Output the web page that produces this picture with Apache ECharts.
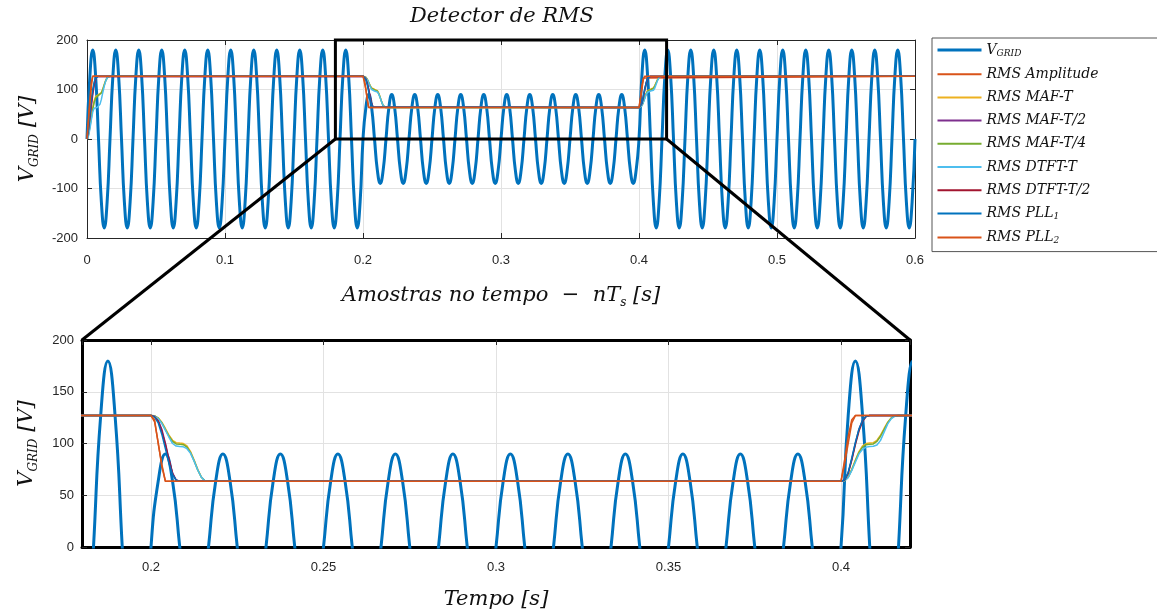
<!DOCTYPE html>
<html><head><meta charset="utf-8">
<script src="https://cdn.jsdelivr.net/npm/echarts@6/dist/echarts.min.js"></script>
<style>html,body{margin:0;padding:0;background:#fff}#c{width:1157px;height:616px}</style>
</head><body><div id="c"></div><script>
// ---------------- DATA ----------------
// grid voltage samples, taken every Ts seconds (8 samples per 60 Hz cycle)
const Ts = 1 / 480;
const vGrid = [
  0, 127, 179.6, 127, 0, -127, -179.6, -127, 0, 127, 179.6, 127, 0, -127, -179.6, -127,
  0, 127, 179.6, 127, 0, -127, -179.6, -127, 0, 127, 179.6, 127, 0, -127, -179.6, -127,
  0, 127, 179.6, 127, 0, -127, -179.6, -127, 0, 127, 179.6, 127, 0, -127, -179.6, -127,
  0, 127, 179.6, 127, 0, -127, -179.6, -127, 0, 127, 179.6, 127, 0, -127, -179.6, -127,
  0, 127, 179.6, 127, 0, -127, -179.6, -127, 0, 127, 179.6, 127, 0, -127, -179.6, -127,
  0, 127, 179.6, 127, 0, -127, -179.6, -127, 0, 127, 179.6, 127, 0, -127, -179.6, -127,
  0, 63.5, 89.8, 63.5, 0, -63.5, -89.8, -63.5, 0, 63.5, 89.8, 63.5, 0, -63.5, -89.8, -63.5,
  0, 63.5, 89.8, 63.5, 0, -63.5, -89.8, -63.5, 0, 63.5, 89.8, 63.5, 0, -63.5, -89.8, -63.5,
  0, 63.5, 89.8, 63.5, 0, -63.5, -89.8, -63.5, 0, 63.5, 89.8, 63.5, 0, -63.5, -89.8, -63.5,
  0, 63.5, 89.8, 63.5, 0, -63.5, -89.8, -63.5, 0, 63.5, 89.8, 63.5, 0, -63.5, -89.8, -63.5,
  0, 63.5, 89.8, 63.5, 0, -63.5, -89.8, -63.5, 0, 63.5, 89.8, 63.5, 0, -63.5, -89.8, -63.5,
  0, 63.5, 89.8, 63.5, 0, -63.5, -89.8, -63.5, 0, 63.5, 89.8, 63.5, 0, -63.5, -89.8, -63.5,
  0, 127, 179.6, 127, 0, -127, -179.6, -127, 0, 127, 179.6, 127, 0, -127, -179.6, -127,
  0, 127, 179.6, 127, 0, -127, -179.6, -127, 0, 127, 179.6, 127, 0, -127, -179.6, -127,
  0, 127, 179.6, 127, 0, -127, -179.6, -127, 0, 127, 179.6, 127, 0, -127, -179.6, -127,
  0, 127, 179.6, 127, 0, -127, -179.6, -127, 0, 127, 179.6, 127, 0, -127, -179.6, -127,
  0, 127, 179.6, 127, 0, -127, -179.6, -127, 0, 127, 179.6, 127, 0, -127, -179.6, -127,
  0, 127, 179.6, 127, 0, -127, -179.6, -127, 0, 127, 179.6, 127, 0, -127, -179.6, -127,
  0
];

// RMS estimates: events (start, sag, recovery) and sample offsets after each event (s)
const eventTimes = [0, 0.2, 0.4];
const tEnd = 0.6;
const stepOffsets = [0, 0.00104, 0.00208, 0.00313, 0.00417, 0.00521, 0.00625, 0.00729, 0.00833,
                     0.00938, 0.01042, 0.01146, 0.0125, 0.01354, 0.01458, 0.01563, 0.01667];

// each: [values after t=0, values after sag, values after recovery]
const rmsAmplitude = [
  [0, 40, 80, 115, 127],
  [127, 121, 101, 78, 63.5],
  [63.5, 84, 107, 123, 127]
];
const rmsMafT = [
  [0, 10.0, 27.1, 46.0, 63.5, 77.1, 85.6, 89.2, 89.8, 90.4, 93.8, 100.9, 110.0, 118.4, 124.1, 126.6, 127],
  [127, 126.7, 124.8, 120.6, 114.5, 108.0, 103.1, 100.8, 100.4, 100.0, 97.6, 92.2, 84.0, 75.0, 67.7, 64.1, 63.5],
  [63.5, 64.1, 67.7, 75.0, 84.0, 92.2, 97.6, 100.0, 100.4, 100.8, 103.1, 108.0, 114.5, 120.6, 124.8, 126.7, 127]
];
const rmsMafT2 = [
  [0, 14.2, 38.3, 65.1, 89.8, 109.1, 121.1, 126.2, 127],
  [127, 126.4, 122.6, 113.8, 100.4, 84.9, 71.6, 64.7, 63.5],
  [63.5, 64.7, 71.6, 84.9, 100.4, 113.8, 122.6, 126.4, 127]
];
const rmsMafT4 = [
  [0, 8, 24, 42, 60, 74, 83, 87, 88, 89, 93, 100, 109, 117.5, 123.5, 126.3, 127],
  [127, 126.6, 124.5, 120, 113.5, 107, 102, 99.6, 99.2, 98.9, 96.5, 91.2, 83.2, 74.5, 67.4, 64, 63.5],
  [63.5, 64, 67.4, 74.5, 83.2, 91.2, 96.5, 98.9, 99.2, 99.6, 102, 107, 113.5, 120, 124.5, 126.6, 127]
];
const rmsDtftT = [
  [0, 6, 20, 38, 55, 62, 63, 63.5, 65, 70, 80, 94, 107, 117, 123.5, 126.3, 127],
  [127, 126.5, 124, 119.5, 113, 106, 100, 97.5, 97, 96.8, 95, 90.5, 83, 74.5, 67.5, 64, 63.5],
  [63.5, 64, 67, 74, 82, 90, 94.5, 96.5, 97, 97.3, 98.5, 103, 111, 119, 124, 126.5, 127]
];
const rmsDtftT2 = [
  [0, 18, 45, 72, 95, 112, 122, 126.4, 127],
  [127, 126, 121.5, 112, 99, 84, 71, 64.5, 63.5],
  [63.5, 64.5, 71, 84, 99, 112, 121.5, 126, 127]
];
const rmsPll1 = [
  [0, 20, 50, 80, 100, 115, 123, 126.5, 127],
  [127, 125.5, 120, 109, 95, 81, 70, 64.5, 63.5],
  [63.5, 65, 72, 86, 101, 114, 122.5, 126.3, 127]
];
const rmsPll2 = [
  [0, 35, 70, 105, 127],
  [127, 123, 100, 80, 63.5],
  [63.5, 80, 100, 120, 127]
];

// zoomed window
const zoomX = [0.18, 0.42];
const zoomY = [0, 200];

// ---------------- BUILD ----------------
const serif = '"DejaVu Serif", serif';
const sans = '"Liberation Sans", Arial, sans-serif';
const dark = '#262626';

function rmsData(segs, offsets) {
  const pts = [];
  segs.forEach((vals, e) => vals.forEach((v, i) => pts.push([eventTimes[e] + offsets[i], v])));
  const last = segs[segs.length - 1];
  pts.push([tEnd, last[last.length - 1]]);
  return pts;
}
const vGridData = vGrid.map((v, i) => [i * Ts, v]);

const rmsDefs = [
  { name: 'RMS Amplitude', color: '#D95319', data: rmsData(rmsAmplitude, stepOffsets) },
  { name: 'RMS MAF-T', color: '#EDB120', data: rmsData(rmsMafT, stepOffsets) },
  { name: 'RMS MAF-T/2', color: '#7E2F8E', data: rmsData(rmsMafT2, stepOffsets) },
  { name: 'RMS MAF-T/4', color: '#77AC30', data: rmsData(rmsMafT4, stepOffsets) },
  { name: 'RMS DTFT-T', color: '#4DBEEE', data: rmsData(rmsDtftT, stepOffsets) },
  { name: 'RMS DTFT-T/2', color: '#A2142F', data: rmsData(rmsDtftT2, stepOffsets) },
  { name: 'RMS PLL1', color: '#0072BD', data: rmsData(rmsPll1, stepOffsets) },
  { name: 'RMS PLL2', color: '#D95319', data: rmsData(rmsPll2, stepOffsets) }
];

const nameRich = {
  i: { fontFamily: serif, fontStyle: 'italic', fontSize: 21, lineHeight: 26, color: '#111', verticalAlign: 'middle' },
  s: { fontFamily: serif, fontStyle: 'italic', fontSize: 12, lineHeight: 13, color: '#111', verticalAlign: 'bottom' }
};

function tickAxisCommon(bold) {
  return {
    axisLine: { show: true, onZero: false, lineStyle: { color: bold ? '#000' : dark, width: bold ? 3 : 1 } },
    axisTick: { show: true, inside: true, length: 5, lineStyle: { color: dark, width: 1 } }
  };
}
const gridLine = { show: true, lineStyle: { color: '#e2e2e2', width: 1 } };
const labelStyle = { color: dark, fontFamily: sans, fontSize: 13 };

const xAxes = [
  Object.assign({ gridIndex: 0, type: 'value', min: 0, max: 0.6, interval: 0.1, position: 'bottom',
    axisLabel: Object.assign({ margin: 16 }, labelStyle), splitLine: gridLine,
    name: '{i|Amostras no tempo  −  nT}{s|s}{i| [s]}', nameLocation: 'middle', nameGap: 45,
    nameTextStyle: { rich: nameRich } }, tickAxisCommon(false)),
  Object.assign({ gridIndex: 0, type: 'value', min: 0, max: 0.6, interval: 0.1, position: 'top',
    axisLabel: { show: false }, splitLine: { show: false } }, tickAxisCommon(false)),
  Object.assign({ gridIndex: 1, type: 'value', min: zoomX[0], max: zoomX[1], splitNumber: 5, position: 'bottom',
    axisLabel: Object.assign({ margin: 14, showMinLabel: false, showMaxLabel: false }, labelStyle), splitLine: gridLine,
    name: '{i|Tempo [s]}', nameLocation: 'middle', nameGap: 40,
    nameTextStyle: { rich: nameRich } }, tickAxisCommon(true)),
  Object.assign({ gridIndex: 1, type: 'value', min: zoomX[0], max: zoomX[1], splitNumber: 5, position: 'top',
    axisLabel: { show: false }, splitLine: { show: false } }, tickAxisCommon(true))
];
const yAxes = [
  Object.assign({ gridIndex: 0, type: 'value', min: -200, max: 200, interval: 100, position: 'left',
    axisLabel: Object.assign({ margin: 9 }, labelStyle), splitLine: gridLine,
    name: '{i|V}{s|GRID}{i| [V]}', nameLocation: 'middle', nameGap: 46,
    nameTextStyle: { rich: nameRich } }, tickAxisCommon(false)),
  Object.assign({ gridIndex: 0, type: 'value', min: -200, max: 200, interval: 100, position: 'right',
    axisLabel: { show: false }, splitLine: { show: false } }, tickAxisCommon(false)),
  Object.assign({ gridIndex: 1, type: 'value', min: zoomY[0], max: zoomY[1], interval: 50, position: 'left',
    axisLabel: Object.assign({ margin: 8 }, labelStyle), splitLine: gridLine,
    name: '{i|V}{s|GRID}{i| [V]}', nameLocation: 'middle', nameGap: 42,
    nameTextStyle: { rich: nameRich } }, tickAxisCommon(true)),
  Object.assign({ gridIndex: 1, type: 'value', min: zoomY[0], max: zoomY[1], interval: 50, position: 'right',
    axisLabel: { show: false }, splitLine: { show: false } }, tickAxisCommon(true))
];

const series = [];
[[0, 0], [2, 2]].forEach(([xi, yi], g) => {
  const s = {
    name: 'V_GRID', type: 'line', xAxisIndex: xi, yAxisIndex: yi, data: vGridData,
    smooth: true, symbol: 'none', color: '#0072BD', lineStyle: { color: '#0072BD', width: 3 }, z: 2
  };
  if (g === 0) {
    s.markArea = {
      silent: true, z: 10,
      itemStyle: { color: 'rgba(0,0,0,0)', borderColor: '#000', borderWidth: 3 },
      data: [[{ coord: [zoomX[0], zoomY[0]] }, { coord: [zoomX[1], zoomY[1]] }]]
    };
  }
  series.push(s);
  rmsDefs.forEach(d => series.push({
    name: d.name, type: 'line', xAxisIndex: xi, yAxisIndex: yi, data: d.data,
    symbol: 'none', color: d.color, lineStyle: { color: d.color, width: 1.5 }, z: 3
  }));
});

const legendRich = {
  i: { fontFamily: serif, fontStyle: 'italic', fontSize: 14, lineHeight: 16, color: '#111', verticalAlign: 'middle' },
  s: { fontFamily: serif, fontStyle: 'italic', fontSize: 9, lineHeight: 9, color: '#111', verticalAlign: 'bottom' }
};
const legendText = {
  'V_GRID': '{i|V}{s|GRID}',
  'RMS PLL1': '{i|RMS PLL}{s|1}',
  'RMS PLL2': '{i|RMS PLL}{s|2}'
};

const option = {
  animation: false,
  backgroundColor: '#fff',
  title: {
    text: 'Detector de RMS', left: 497, top: 1, textAlign: 'center',
    textStyle: { fontFamily: serif, fontStyle: 'italic', fontWeight: 'normal', fontSize: 21, color: '#111' }
  },
  legend: {
    orient: 'vertical', left: 932, top: 38, padding: [5, 60, 6, 4],
    borderColor: '#555', borderWidth: 1, backgroundColor: '#fff',
    itemWidth: 44, itemHeight: 14, itemGap: 9.2,
    itemStyle: { opacity: 0 },
    data: [{ name: 'V_GRID', lineStyle: { width: 3 } }].concat(rmsDefs.map(d => d.name)),
    formatter: n => legendText[n] || ('{i|' + n + '}'),
    textStyle: { rich: legendRich }
  },
  grid: [
    { left: 87, top: 40, width: 828, height: 198 },
    { left: 82, top: 340, width: 828, height: 207 }
  ],
  xAxis: xAxes,
  yAxis: yAxes,
  series: series
};

const chart = echarts.init(document.getElementById('c'), null, { renderer: 'canvas' });
chart.setOption(option);

// connector lines from the zoom rectangle to the detail plot
const a1 = chart.convertToPixel({ xAxisIndex: 0, yAxisIndex: 0 }, [zoomX[0], zoomY[0]]);
const a2 = chart.convertToPixel({ xAxisIndex: 0, yAxisIndex: 0 }, [zoomX[1], zoomY[0]]);
const b1 = chart.convertToPixel({ xAxisIndex: 2, yAxisIndex: 2 }, [zoomX[0], zoomY[1]]);
const b2 = chart.convertToPixel({ xAxisIndex: 2, yAxisIndex: 2 }, [zoomX[1], zoomY[1]]);
chart.setOption({
  graphic: [
    { type: 'line', z: 100, silent: true, shape: { x1: a1[0], y1: a1[1], x2: b1[0], y2: b1[1] }, style: { stroke: '#000', lineWidth: 3 } },
    { type: 'line', z: 100, silent: true, shape: { x1: a2[0], y1: a2[1], x2: b2[0], y2: b2[1] }, style: { stroke: '#000', lineWidth: 3 } }
  ]
});
</script></body></html>
